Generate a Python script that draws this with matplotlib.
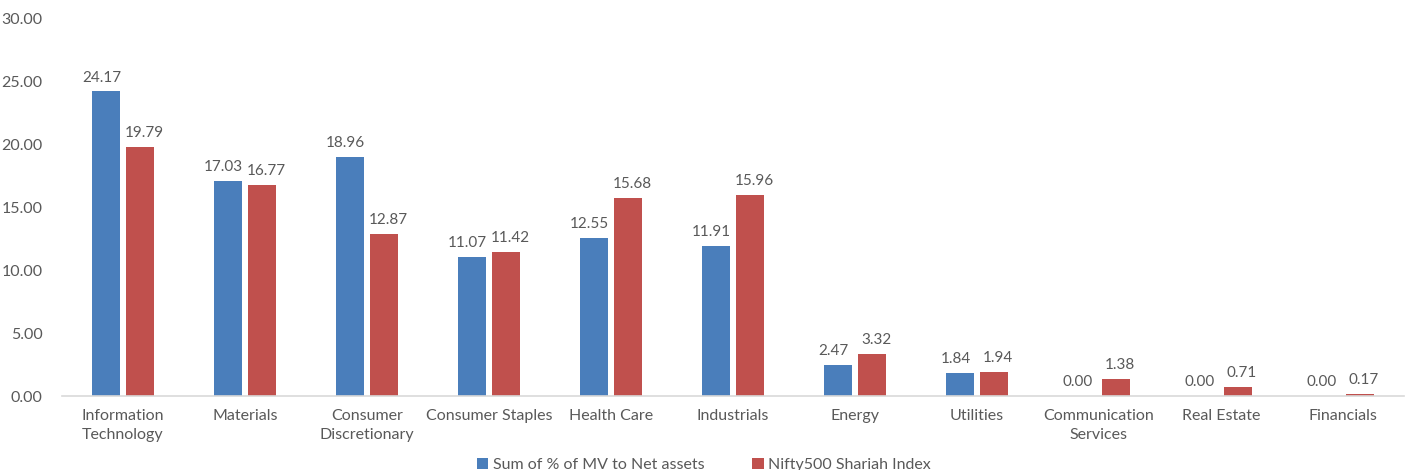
import numpy as np
import matplotlib.pyplot as plt
import matplotlib as mpl

mpl.rcParams["font.family"] = ["Lato", "DejaVu Sans"]
mpl.rcParams["text.color"] = "#595959"
mpl.rcParams["xtick.color"] = "#595959"
mpl.rcParams["ytick.color"] = "#595959"

categories = ["Information\nTechnology", "Materials", "Consumer\nDiscretionary",
              "Consumer Staples", "Health Care", "Industrials", "Energy",
              "Utilities", "Communication\nServices", "Real Estate", "Financials"]
fund = [24.17, 17.03, 18.96, 11.07, 12.55, 11.91, 2.47, 1.84, 0.00, 0.00, 0.00]
index = [19.79, 16.77, 12.87, 11.42, 15.68, 15.96, 3.32, 1.94, 1.38, 0.71, 0.17]
series_names = ["Sum of % of MV to Net assets", "Nifty500 Shariah Index"]

blue = "#4A7EBB"
red = "#C0504D"

fig = plt.figure(figsize=(14.08, 4.7), dpi=100)
ax = fig.add_axes([0.044, 0.1574, 0.953, 0.8043])

x = np.arange(len(categories))
w = 0.23
b1 = ax.bar(x - 0.14, fund, w, color=blue, label=series_names[0])
b2 = ax.bar(x + 0.14, index, w, color=red, label=series_names[1])

# value labels above each bar, nudged apart a little like Excel does
for bars, dx in ((b1, -3), (b2, 3)):
    for b in bars:
        h = b.get_height()
        ax.annotate(f"{h:.2f}", (b.get_x() + b.get_width() / 2, h),
                    xytext=(dx, 5), textcoords="offset points",
                    ha="center", va="bottom", fontsize=11)

ax.set_xlim(-0.5, len(categories) - 0.5)
ax.set_ylim(0, 30)
ax.set_yticks(np.arange(0, 31, 5))
ax.set_yticklabels([f"{v:.2f}" for v in np.arange(0, 31, 5)], fontsize=11.5)
ax.set_xticks(x)
ax.set_xticklabels(categories, fontsize=11.5, linespacing=1.5)
ax.tick_params(length=0, pad=9)
ax.tick_params(axis="y", pad=14)

for s in ["top", "right", "left"]:
    ax.spines[s].set_visible(False)
ax.spines["bottom"].set_color("#D9D9D9")
ax.spines["bottom"].set_linewidth(1.2)

fig.legend(loc="lower center", bbox_to_anchor=(0.5, -0.035), ncol=2, frameon=False,
           fontsize=11.5, handlelength=0.7, handleheight=0.7, handletextpad=0.3,
           columnspacing=3)

plt.savefig("out.png", dpi=100)
